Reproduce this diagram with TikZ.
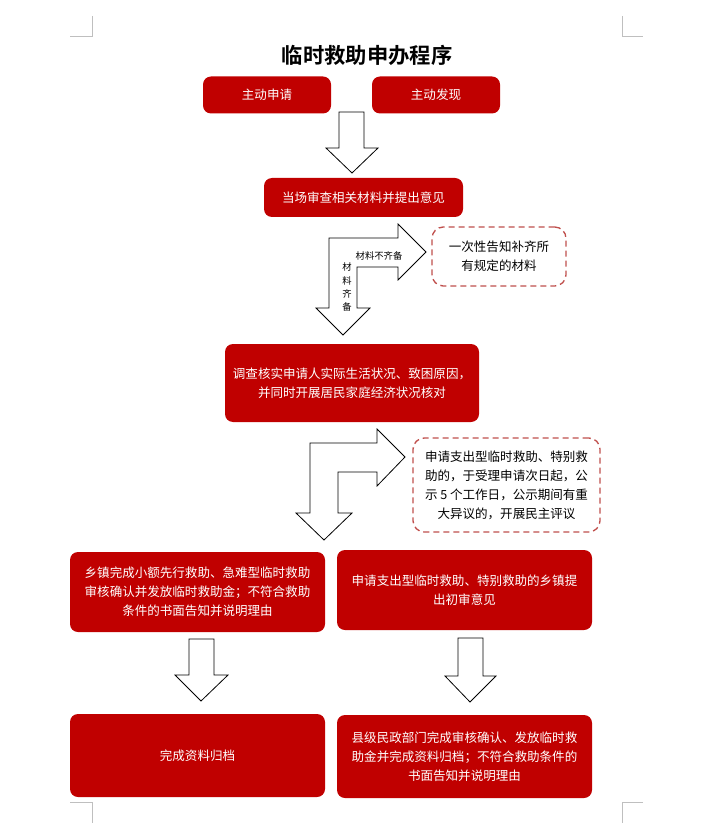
\documentclass[tikz,border=0pt]{standalone}
\usepackage{fontspec}
\setmainfont{Noto Sans CJK SC}[BoldFont={Noto Sans CJK SC Bold}]
\definecolor{boxred}{HTML}{C00000}
\definecolor{dashred}{HTML}{C0504D}
\definecolor{markgray}{HTML}{BFBFBF}
\begin{document}
\begin{tikzpicture}[x=0.75pt,y=-0.75pt,
  redbox/.style={fill=boxred,draw=none,rounded corners=6pt,text=white,font=\fontsize{9.4}{14.2}\selectfont,align=center,inner sep=0pt},
  dashbox/.style={draw=dashred,line width=1pt,dash pattern=on 4.5pt off 3pt,rounded corners=8.5pt,fill=white,text=black,font=\fontsize{9.4}{14.2}\selectfont,align=center,inner sep=0pt},
  blockarrow/.style={draw=black,fill=white,line width=0.6pt,line join=miter},
  cornermark/.style={draw=markgray,line width=0.6pt},
  lbl/.style={font=\fontsize{7}{9.8}\selectfont,inner sep=0pt,align=center}]
\useasboundingbox (0,0) rectangle (713,823);
% corner marks
\draw[cornermark] (92,16) -- (92,36) -- (70,36);
\draw[cornermark] (622,16) -- (622,36) -- (643,36);
\draw[cornermark] (70,802) -- (92,802) -- (92,823);
\draw[cornermark] (643,802) -- (622,802) -- (622,823);
% title
\node[font=\fontsize{16}{19}\selectfont\bfseries] (title) at (367,55) {临时救助申办程序};
% top boxes
\node[redbox,minimum width=96pt,minimum height=27.75pt] (req) at (267,95) {主动申请};
\node[redbox,minimum width=96pt,minimum height=27.75pt] (find) at (436,95) {主动发现};
% arrow 1
\draw[blockarrow] (339,112) -- (364,112) -- (364,148) -- (378,148) -- (352,173) -- (326,148) -- (339,148) -- cycle;
\node[redbox,minimum width=149.25pt,minimum height=29.25pt] (check) at (363.5,197.5) {当场审查相关材料并提出意见};
% bent arrow 1
\draw[blockarrow] (329,238) -- (398,238) -- (398,224) -- (426,252) -- (398,280) -- (398,267) -- (357,267) -- (357,308) -- (370,308) -- (343,335) -- (316,308) -- (329,308) -- cycle;
\node[lbl] (nok) at (379,256) {材料不齐备};
\node[lbl] (ok) at (347,287) {材\\料\\齐\\备};
\node[dashbox,minimum width=100.5pt,minimum height=44.25pt] (inform) at (499,256.5) {一次性告知补齐所\\有规定的材料};
% investigate
\node[redbox,minimum width=190.5pt,minimum height=58.5pt] (inv) at (352,383) {调查核实申请人实际生活状况、致困原因，\\并同时开展居民家庭经济状况核对};
% bent arrow 2
\draw[blockarrow] (310,443) -- (377,443) -- (377,429) -- (405,457) -- (377,486) -- (377,472) -- (338,472) -- (338,513) -- (352,513) -- (324,540) -- (296,513) -- (310,513) -- cycle;
\node[dashbox,minimum width=140.25pt,minimum height=70.5pt] (pub) at (506.5,485) {申请支出型临时救助、特别救\\助的，于受理申请次日起，公\\示 5 个工作日，公示期间有重\\大异议的，开展民主评议};
% middle boxes
\node[redbox,minimum width=191.25pt,minimum height=60pt] (left1) at (197.5,592) {乡镇完成小额先行救助、急难型临时救助\\审核确认并发放临时救助金；不符合救助\\条件的书面告知并说明理由};
\node[redbox,minimum width=191.25pt,minimum height=60pt] (right1) at (464.5,590) {申请支出型临时救助、特别救助的乡镇提\\出初审意见};
% arrows
\draw[blockarrow] (189,639) -- (214,639) -- (214,675) -- (228,675) -- (201,701) -- (175,675) -- (189,675) -- cycle;
\draw[blockarrow] (458,638) -- (483,638) -- (483,676) -- (496,676) -- (470,702) -- (445,676) -- (458,676) -- cycle;
% bottom boxes
\node[redbox,minimum width=191.25pt,minimum height=62.25pt] (left2) at (197.5,755.5) {完成资料归档};
\node[redbox,minimum width=191.25pt,minimum height=62.25pt] (right2) at (464.5,756.5) {县级民政部门完成审核确认、发放临时救\\助金并完成资料归档；不符合救助条件的\\书面告知并说明理由};
\end{tikzpicture}
\end{document}
